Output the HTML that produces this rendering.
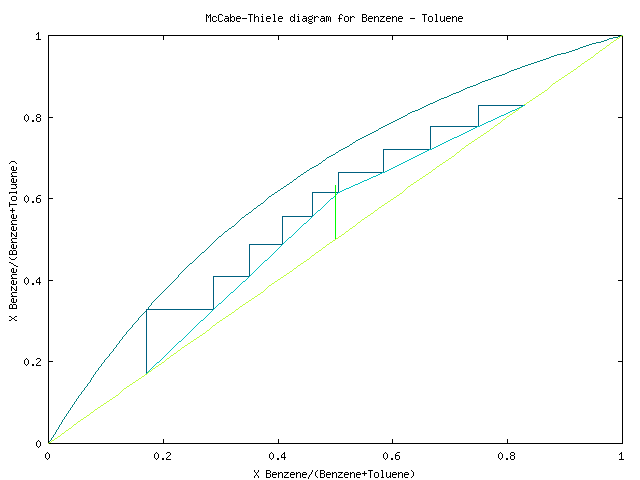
<!DOCTYPE html>
<html lang="en"><head><meta charset="utf-8"><title>McCabe-Thiele diagram for Benzene - Toluene</title>
<style>
html,body{margin:0;padding:0;background:#fff;}
#chart{position:relative;width:640px;height:480px;overflow:hidden;background:#fff;}
#chart svg{position:absolute;left:0;top:0;display:block;}
.t{position:absolute;height:12px;font-family:"Liberation Mono",monospace;font-size:10px;line-height:12px;letter-spacing:0;white-space:pre;color:transparent;}
</style></head><body>
<div id="chart">
<svg width="640" height="480" viewBox="0 0 640 480" shape-rendering="crispEdges" role="img" aria-label="McCabe-Thiele diagram for Benzene - Toluene">
<title>McCabe-Thiele diagram for Benzene - Toluene</title>
<rect width="640" height="480" fill="#ffffff"/>
<path id="frame" fill="#000000" d="M48 35h575v1h-575zM392 36h1v4h-1zM507 36h1v4h-1zM278 36h1v4h-1zM163 36h1v4h-1zM622 36h1v81h-1zM48 36h1v81h-1zM48 117h5v1h-5zM618 117h5v1h-5zM622 118h1v80h-1zM48 118h1v80h-1zM48 198h5v1h-5zM618 198h5v1h-5zM622 199h1v81h-1zM48 199h1v81h-1zM48 280h5v1h-5zM618 280h5v1h-5zM622 281h1v80h-1zM48 281h1v80h-1zM48 361h5v1h-5zM618 361h5v1h-5zM622 362h1v81h-1zM48 362h1v81h-1zM392 439h1v4h-1zM507 439h1v4h-1zM278 439h1v4h-1zM163 439h1v4h-1zM48 443h575v1h-575z"/>
<path id="equilibrium" fill="#008080" d="M621 35h2v1h-2zM618 36h3v1h-3zM613 37h5v1h-5zM609 38h4v1h-4zM607 39h2v1h-2zM604 40h3v1h-3zM601 41h3v1h-3zM596 42h5v1h-5zM592 43h4v1h-4zM589 44h3v1h-3zM586 45h3v1h-3zM583 46h3v1h-3zM580 47h3v1h-3zM578 48h2v1h-2zM575 49h3v1h-3zM572 50h3v1h-3zM569 51h3v1h-3zM566 52h3v1h-3zM561 53h5v1h-5zM557 54h4v1h-4zM554 55h3v1h-3zM551 56h3v1h-3zM549 57h2v1h-2zM546 58h3v1h-3zM543 59h3v1h-3zM540 60h3v1h-3zM537 61h3v1h-3zM534 62h3v1h-3zM531 63h3v1h-3zM528 64h3v1h-3zM525 65h3v1h-3zM522 66h3v1h-3zM520 67h2v1h-2zM517 68h3v1h-3zM514 69h3v1h-3zM511 70h3v1h-3zM509 71h2v1h-2zM507 72h2v1h-2zM505 73h2v1h-2zM502 74h3v1h-3zM499 75h3v1h-3zM496 76h3v1h-3zM493 77h3v1h-3zM491 78h2v1h-2zM488 79h3v1h-3zM485 80h3v1h-3zM482 81h3v1h-3zM480 82h2v1h-2zM478 83h2v1h-2zM476 84h2v1h-2zM473 85h3v1h-3zM470 86h3v1h-3zM467 87h3v1h-3zM465 88h2v1h-2zM463 89h2v1h-2zM461 90h2v1h-2zM459 91h2v1h-2zM456 92h3v1h-3zM453 93h3v1h-3zM451 94h2v1h-2zM449 95h2v1h-2zM447 96h2v1h-2zM444 97h3v1h-3zM441 98h3v1h-3zM439 99h2v1h-2zM437 100h2v1h-2zM435 101h2v1h-2zM433 102h2v1h-2zM430 103h3v1h-3zM428 104h2v1h-2zM426 105h2v1h-2zM424 106h2v1h-2zM422 107h2v1h-2zM420 108h2v1h-2zM418 109h2v1h-2zM415 110h3v1h-3zM412 111h3v1h-3zM410 112h2v1h-2zM408 113h2v1h-2zM407 114h1v1h-1zM405 115h2v1h-2zM403 116h2v1h-2zM401 117h2v1h-2zM399 118h2v1h-2zM397 119h2v1h-2zM395 120h2v1h-2zM393 121h2v1h-2zM391 122h2v1h-2zM389 123h2v1h-2zM387 124h2v1h-2zM385 125h2v1h-2zM383 126h2v1h-2zM381 127h2v1h-2zM379 128h2v1h-2zM378 129h1v1h-1zM376 130h2v1h-2zM374 131h2v1h-2zM372 132h2v1h-2zM370 133h2v1h-2zM368 134h2v1h-2zM366 135h2v1h-2zM364 136h2v1h-2zM362 137h2v1h-2zM360 138h2v1h-2zM358 139h2v1h-2zM356 140h2v1h-2zM355 141h1v1h-1zM353 142h2v1h-2zM352 143h1v1h-1zM350 144h2v1h-2zM349 145h1v1h-1zM347 146h2v1h-2zM345 147h2v1h-2zM343 148h2v1h-2zM341 149h2v1h-2zM339 150h2v1h-2zM338 151h1v1h-1zM336 152h2v1h-2zM335 153h1v1h-1zM333 154h2v1h-2zM331 155h2v1h-2zM329 156h2v1h-2zM327 157h2v1h-2zM326 158h1v1h-1zM325 159h1v1h-1zM323 160h2v1h-2zM322 161h1v1h-1zM321 162h1v1h-1zM319 163h2v1h-2zM318 164h1v1h-1zM316 165h2v1h-2zM314 166h2v1h-2zM312 167h2v1h-2zM310 168h2v1h-2zM309 169h1v1h-1zM307 170h2v1h-2zM306 171h1v1h-1zM304 172h2v1h-2zM303 173h1v1h-1zM301 174h2v1h-2zM300 175h1v1h-1zM298 176h2v1h-2zM297 177h1v1h-1zM296 178h1v1h-1zM294 179h2v1h-2zM293 180h1v1h-1zM292 181h1v1h-1zM290 182h2v1h-2zM289 183h1v1h-1zM287 184h2v1h-2zM286 185h1v1h-1zM284 186h2v1h-2zM283 187h1v1h-1zM281 188h2v1h-2zM280 189h1v1h-1zM278 190h2v1h-2zM277 191h1v1h-1zM275 192h2v1h-2zM274 193h1v1h-1zM272 194h2v1h-2zM271 195h1v1h-1zM269 196h2v1h-2zM268 197h1v1h-1zM267 198h1v1h-1zM266 199h1v1h-1zM265 200h1v1h-1zM264 201h1v1h-1zM263 202h1v1h-1zM261 203h2v1h-2zM260 204h1v1h-1zM258 205h2v1h-2zM257 206h1v1h-1zM256 207h1v1h-1zM254 208h2v1h-2zM253 209h1v1h-1zM252 210h1v1h-1zM251 211h1v1h-1zM249 212h2v1h-2zM248 213h1v1h-1zM246 214h2v1h-2zM245 215h1v1h-1zM244 216h1v1h-1zM242 217h2v1h-2zM241 218h1v1h-1zM240 219h1v1h-1zM239 220h1v1h-1zM238 221h1v1h-1zM237 222h1v1h-1zM236 223h1v1h-1zM235 224h1v1h-1zM234 225h1v1h-1zM232 226h2v1h-2zM231 227h1v1h-1zM229 228h2v1h-2zM228 229h1v1h-1zM227 230h1v1h-1zM225 231h2v1h-2zM224 232h1v1h-1zM223 233h1v1h-1zM222 234h1v1h-1zM221 235h1v1h-1zM219 236h2v1h-2zM218 237h1v1h-1zM217 238h1v1h-1zM216 239h1v1h-1zM215 240h1v1h-1zM214 241h1v1h-1zM213 242h1v1h-1zM212 243h1v1h-1zM211 244h1v1h-1zM210 245h1v1h-1zM209 246h1v1h-1zM208 247h1v1h-1zM207 248h1v1h-1zM206 249h1v1h-1zM205 250h1v1h-1zM204 251h1v1h-1zM202 252h2v1h-2zM201 253h1v1h-1zM200 254h1v1h-1zM199 255h1v1h-1zM198 256h1v1h-1zM197 257h1v1h-1zM196 258h1v1h-1zM195 259h1v1h-1zM194 260h1v1h-1zM193 261h1v1h-1zM192 262h1v1h-1zM190 263h2v1h-2zM189 264h1v1h-1zM188 265h1v1h-1zM187 266h1v1h-1zM186 267h1v1h-1zM185 268h1v1h-1zM184 269h1v1h-1zM183 270h1v1h-1zM182 271h1v1h-1zM181 272h1v1h-1zM180 273h1v1h-1zM179 274h1v1h-1zM178 275h1v2h-1zM177 277h1v1h-1zM176 278h1v1h-1zM175 279h1v1h-1zM174 280h1v1h-1zM173 281h1v1h-1zM172 282h1v1h-1zM171 283h1v1h-1zM170 284h1v1h-1zM169 285h1v1h-1zM168 286h1v1h-1zM167 287h1v1h-1zM166 288h1v1h-1zM165 289h1v1h-1zM164 290h1v1h-1zM163 291h1v1h-1zM162 292h1v1h-1zM161 293h1v1h-1zM160 294h1v1h-1zM159 295h1v1h-1zM158 296h1v1h-1zM157 297h1v1h-1zM156 298h1v1h-1zM155 299h1v1h-1zM154 300h1v1h-1zM153 301h1v1h-1zM152 302h1v1h-1zM151 303h1v2h-1zM150 305h1v1h-1zM149 306h1v1h-1zM148 307h1v2h-1zM147 309h1v1h-1zM146 310h1v1h-1zM145 311h1v1h-1zM144 312h1v1h-1zM143 313h1v1h-1zM142 314h1v1h-1zM141 315h1v1h-1zM140 316h1v1h-1zM139 317h1v1h-1zM138 318h1v2h-1zM137 320h1v1h-1zM136 321h1v1h-1zM135 322h1v1h-1zM134 323h1v1h-1zM133 324h1v1h-1zM132 325h1v2h-1zM131 327h1v1h-1zM130 328h1v1h-1zM129 329h1v1h-1zM128 330h1v1h-1zM127 331h1v1h-1zM126 332h1v2h-1zM125 334h1v1h-1zM124 335h1v1h-1zM123 336h1v1h-1zM122 337h1v2h-1zM121 339h1v1h-1zM120 340h1v1h-1zM119 341h1v2h-1zM118 343h1v1h-1zM117 344h1v1h-1zM116 345h1v2h-1zM115 347h1v1h-1zM114 348h1v1h-1zM113 349h1v2h-1zM112 351h1v1h-1zM111 352h1v1h-1zM110 353h1v1h-1zM109 354h1v2h-1zM108 356h1v1h-1zM107 357h1v1h-1zM106 358h1v1h-1zM105 359h1v1h-1zM104 360h1v2h-1zM103 362h1v1h-1zM102 363h1v1h-1zM101 364h1v2h-1zM100 366h1v1h-1zM99 367h1v1h-1zM98 368h1v2h-1zM97 370h1v1h-1zM96 371h1v1h-1zM95 372h1v2h-1zM94 374h1v1h-1zM93 375h1v2h-1zM92 377h1v1h-1zM91 378h1v2h-1zM90 380h1v2h-1zM89 382h1v1h-1zM88 383h1v1h-1zM87 384h1v2h-1zM86 386h1v1h-1zM85 387h1v1h-1zM84 388h1v2h-1zM83 390h1v1h-1zM82 391h1v1h-1zM81 392h1v2h-1zM80 394h1v1h-1zM79 395h1v1h-1zM78 396h1v2h-1zM77 398h1v1h-1zM76 399h1v2h-1zM75 401h1v1h-1zM74 402h1v2h-1zM73 404h1v1h-1zM72 405h1v2h-1zM71 407h1v1h-1zM70 408h1v2h-1zM69 410h1v1h-1zM68 411h1v2h-1zM67 413h1v1h-1zM66 414h1v2h-1zM65 416h1v1h-1zM64 417h1v2h-1zM63 419h1v1h-1zM62 420h1v2h-1zM61 422h1v2h-1zM60 424h1v1h-1zM59 425h1v2h-1zM58 427h1v2h-1zM57 429h1v1h-1zM56 430h1v2h-1zM55 432h1v2h-1zM54 434h1v1h-1zM53 435h1v2h-1zM52 437h1v1h-1zM51 438h1v2h-1zM50 440h1v1h-1zM49 441h1v2h-1zM48 443h1v1h-1z"/>
<path id="diagonal" fill="#c0ff40" d="M622 35h1v1h-1zM620 36h2v1h-2zM619 37h1v1h-1zM617 38h2v1h-2zM616 39h1v1h-1zM614 40h2v1h-2zM613 41h1v1h-1zM611 42h2v1h-2zM610 43h1v1h-1zM609 44h1v1h-1zM607 45h2v1h-2zM606 46h1v1h-1zM605 47h1v1h-1zM603 48h2v1h-2zM602 49h1v1h-1zM600 50h2v1h-2zM599 51h1v1h-1zM598 52h1v1h-1zM596 53h2v1h-2zM595 54h1v1h-1zM594 55h1v1h-1zM593 56h1v1h-1zM591 57h2v1h-2zM590 58h1v1h-1zM588 59h2v1h-2zM587 60h1v1h-1zM585 61h2v1h-2zM584 62h1v1h-1zM582 63h2v1h-2zM581 64h1v1h-1zM580 65h1v1h-1zM578 66h2v1h-2zM577 67h1v1h-1zM576 68h1v1h-1zM574 69h2v1h-2zM573 70h1v1h-1zM571 71h2v1h-2zM570 72h1v1h-1zM568 73h2v1h-2zM567 74h1v1h-1zM565 75h2v1h-2zM564 76h1v1h-1zM562 77h2v1h-2zM561 78h1v1h-1zM559 79h2v1h-2zM558 80h1v1h-1zM556 81h2v1h-2zM555 82h1v1h-1zM553 83h2v1h-2zM552 84h1v1h-1zM551 85h1v1h-1zM550 86h1v1h-1zM549 87h1v1h-1zM548 88h1v1h-1zM547 89h1v1h-1zM545 90h2v1h-2zM544 91h1v1h-1zM542 92h2v1h-2zM541 93h1v1h-1zM539 94h2v1h-2zM538 95h1v1h-1zM536 96h2v1h-2zM535 97h1v1h-1zM533 98h2v1h-2zM532 99h1v1h-1zM530 100h2v1h-2zM529 101h1v1h-1zM527 102h2v1h-2zM526 103h1v1h-1zM524 104h2v1h-2zM523 105h1v1h-1zM522 106h1v1h-1zM520 107h2v1h-2zM519 108h1v1h-1zM518 109h1v1h-1zM516 110h2v1h-2zM515 111h1v1h-1zM513 112h2v1h-2zM512 113h1v1h-1zM510 114h2v1h-2zM509 115h1v1h-1zM507 116h2v1h-2zM506 117h1v1h-1zM505 118h1v1h-1zM503 119h2v1h-2zM502 120h1v1h-1zM501 121h1v1h-1zM500 122h1v1h-1zM498 123h2v1h-2zM497 124h1v1h-1zM495 125h2v1h-2zM494 126h1v1h-1zM493 127h1v1h-1zM491 128h2v1h-2zM490 129h1v1h-1zM489 130h1v1h-1zM487 131h2v1h-2zM486 132h1v1h-1zM484 133h2v1h-2zM483 134h1v1h-1zM481 135h2v1h-2zM480 136h1v1h-1zM478 137h2v1h-2zM477 138h1v1h-1zM475 139h2v1h-2zM474 140h1v1h-1zM472 141h2v1h-2zM471 142h1v1h-1zM469 143h2v1h-2zM468 144h1v1h-1zM466 145h2v1h-2zM465 146h1v1h-1zM464 147h1v1h-1zM462 148h2v1h-2zM461 149h1v1h-1zM460 150h1v1h-1zM459 151h1v1h-1zM457 152h2v1h-2zM456 153h1v1h-1zM455 154h1v1h-1zM454 155h1v1h-1zM452 156h2v1h-2zM451 157h1v1h-1zM449 158h2v1h-2zM448 159h1v1h-1zM446 160h2v1h-2zM445 161h1v1h-1zM443 162h2v1h-2zM442 163h1v1h-1zM440 164h2v1h-2zM439 165h1v1h-1zM437 166h2v1h-2zM436 167h1v1h-1zM435 168h1v1h-1zM433 169h2v1h-2zM432 170h1v1h-1zM431 171h1v1h-1zM429 172h2v1h-2zM428 173h1v1h-1zM426 174h2v1h-2zM425 175h1v1h-1zM423 176h2v1h-2zM422 177h1v1h-1zM420 178h2v1h-2zM419 179h1v1h-1zM417 180h2v1h-2zM416 181h1v1h-1zM414 182h2v1h-2zM413 183h1v1h-1zM411 184h2v1h-2zM410 185h1v1h-1zM408 186h2v1h-2zM407 187h1v1h-1zM406 188h1v1h-1zM405 189h1v1h-1zM404 190h1v1h-1zM403 191h1v1h-1zM402 192h1v1h-1zM400 193h2v1h-2zM399 194h1v1h-1zM397 195h2v1h-2zM396 196h1v1h-1zM394 197h2v1h-2zM393 198h1v1h-1zM391 199h2v1h-2zM390 200h1v1h-1zM388 201h2v1h-2zM387 202h1v1h-1zM385 203h2v1h-2zM384 204h1v1h-1zM382 205h2v1h-2zM381 206h1v1h-1zM379 207h2v1h-2zM378 208h1v1h-1zM377 209h1v1h-1zM375 210h2v1h-2zM374 211h1v1h-1zM373 212h1v1h-1zM371 213h2v1h-2zM370 214h1v1h-1zM368 215h2v1h-2zM367 216h1v1h-1zM365 217h2v1h-2zM364 218h1v1h-1zM362 219h2v1h-2zM361 220h1v1h-1zM360 221h1v1h-1zM358 222h2v1h-2zM357 223h1v1h-1zM356 224h1v1h-1zM355 225h1v1h-1zM353 226h2v1h-2zM352 227h1v1h-1zM350 228h2v1h-2zM349 229h1v1h-1zM348 230h1v1h-1zM346 231h2v1h-2zM345 232h1v1h-1zM344 233h1v1h-1zM342 234h2v1h-2zM341 235h1v1h-1zM339 236h2v1h-2zM338 237h1v1h-1zM336 238h2v1h-2zM335 239h1v1h-1zM333 240h2v1h-2zM332 241h1v1h-1zM330 242h2v1h-2zM329 243h1v1h-1zM327 244h2v1h-2zM326 245h1v1h-1zM325 246h1v1h-1zM323 247h2v1h-2zM322 248h1v1h-1zM321 249h1v1h-1zM319 250h2v1h-2zM318 251h1v1h-1zM316 252h2v1h-2zM315 253h1v1h-1zM314 254h1v1h-1zM312 255h2v1h-2zM311 256h1v1h-1zM310 257h1v1h-1zM309 258h1v1h-1zM307 259h2v1h-2zM306 260h1v1h-1zM304 261h2v1h-2zM303 262h1v1h-1zM301 263h2v1h-2zM300 264h1v1h-1zM298 265h2v1h-2zM297 266h1v1h-1zM296 267h1v1h-1zM294 268h2v1h-2zM293 269h1v1h-1zM292 270h1v1h-1zM290 271h2v1h-2zM289 272h1v1h-1zM287 273h2v1h-2zM286 274h1v1h-1zM284 275h2v1h-2zM283 276h1v1h-1zM281 277h2v1h-2zM280 278h1v1h-1zM278 279h2v1h-2zM277 280h1v1h-1zM275 281h2v1h-2zM274 282h1v1h-1zM272 283h2v1h-2zM271 284h1v1h-1zM269 285h2v1h-2zM268 286h1v1h-1zM267 287h1v1h-1zM266 288h1v1h-1zM265 289h1v1h-1zM264 290h1v1h-1zM263 291h1v1h-1zM261 292h2v1h-2zM260 293h1v1h-1zM258 294h2v1h-2zM257 295h1v1h-1zM255 296h2v1h-2zM254 297h1v1h-1zM252 298h2v1h-2zM251 299h1v1h-1zM249 300h2v1h-2zM248 301h1v1h-1zM246 302h2v1h-2zM245 303h1v1h-1zM243 304h2v1h-2zM242 305h1v1h-1zM240 306h2v1h-2zM239 307h1v1h-1zM238 308h1v1h-1zM236 309h2v1h-2zM235 310h1v1h-1zM234 311h1v1h-1zM232 312h2v1h-2zM231 313h1v1h-1zM229 314h2v1h-2zM228 315h1v1h-1zM226 316h2v1h-2zM225 317h1v1h-1zM223 318h2v1h-2zM222 319h1v1h-1zM220 320h2v1h-2zM219 321h1v1h-1zM217 322h2v1h-2zM216 323h1v1h-1zM215 324h1v1h-1zM213 325h2v1h-2zM212 326h1v1h-1zM211 327h1v1h-1zM210 328h1v1h-1zM209 329h1v1h-1zM207 330h2v1h-2zM206 331h1v1h-1zM205 332h1v1h-1zM203 333h2v1h-2zM202 334h1v1h-1zM200 335h2v1h-2zM199 336h1v1h-1zM197 337h2v1h-2zM196 338h1v1h-1zM194 339h2v1h-2zM193 340h1v1h-1zM191 341h2v1h-2zM190 342h1v1h-1zM188 343h2v1h-2zM187 344h1v1h-1zM185 345h2v1h-2zM184 346h1v1h-1zM182 347h2v1h-2zM181 348h1v1h-1zM180 349h1v1h-1zM178 350h2v1h-2zM177 351h1v1h-1zM176 352h1v1h-1zM174 353h2v1h-2zM173 354h1v1h-1zM171 355h2v1h-2zM170 356h1v1h-1zM169 357h1v1h-1zM167 358h2v1h-2zM166 359h1v1h-1zM165 360h1v1h-1zM164 361h1v1h-1zM162 362h2v1h-2zM161 363h1v1h-1zM159 364h2v1h-2zM158 365h1v1h-1zM156 366h2v1h-2zM155 367h1v1h-1zM153 368h2v1h-2zM152 369h1v1h-1zM151 370h1v1h-1zM149 371h2v1h-2zM148 372h1v1h-1zM147 373h1v1h-1zM145 374h2v1h-2zM144 375h1v1h-1zM142 376h2v1h-2zM141 377h1v1h-1zM139 378h2v1h-2zM138 379h1v1h-1zM136 380h2v1h-2zM135 381h1v1h-1zM133 382h2v1h-2zM132 383h1v1h-1zM130 384h2v1h-2zM129 385h1v1h-1zM127 386h2v1h-2zM126 387h1v1h-1zM124 388h2v1h-2zM123 389h1v1h-1zM122 390h1v1h-1zM121 391h1v1h-1zM120 392h1v1h-1zM119 393h1v1h-1zM118 394h1v1h-1zM116 395h2v1h-2zM115 396h1v1h-1zM113 397h2v1h-2zM112 398h1v1h-1zM110 399h2v1h-2zM109 400h1v1h-1zM107 401h2v1h-2zM106 402h1v1h-1zM104 403h2v1h-2zM103 404h1v1h-1zM101 405h2v1h-2zM100 406h1v1h-1zM98 407h2v1h-2zM97 408h1v1h-1zM95 409h2v1h-2zM94 410h1v1h-1zM93 411h1v1h-1zM91 412h2v1h-2zM90 413h1v1h-1zM89 414h1v1h-1zM87 415h2v1h-2zM86 416h1v1h-1zM84 417h2v1h-2zM83 418h1v1h-1zM81 419h2v1h-2zM80 420h1v1h-1zM78 421h2v1h-2zM77 422h1v1h-1zM76 423h1v1h-1zM74 424h2v1h-2zM73 425h1v1h-1zM72 426h1v1h-1zM71 427h1v1h-1zM69 428h2v1h-2zM68 429h1v1h-1zM66 430h2v1h-2zM65 431h1v1h-1zM64 432h1v1h-1zM62 433h2v1h-2zM61 434h1v1h-1zM60 435h1v1h-1zM58 436h2v1h-2zM57 437h1v1h-1zM55 438h2v1h-2zM54 439h1v1h-1zM52 440h2v1h-2zM51 441h1v1h-1zM49 442h2v1h-2zM48 443h1v1h-1z"/>
<path id="stages" fill="#006080" d="M478 105h46v1h-46zM478 106h1v20h-1zM430 126h49v1h-49zM430 127h1v22h-1zM383 149h48v1h-48zM383 150h1v22h-1zM338 172h46v1h-46zM338 173h1v19h-1zM312 192h27v1h-27zM312 193h1v23h-1zM282 216h31v1h-31zM282 217h1v27h-1zM249 244h34v1h-34zM249 245h1v31h-1zM213 276h37v1h-37zM213 277h1v32h-1zM146 309h68v1h-68zM146 310h1v64h-1z"/>
<path id="operating" fill="#00c0c0" d="M523 105h2v1h-2zM521 106h2v1h-2zM519 107h2v1h-2zM517 108h2v1h-2zM515 109h2v1h-2zM512 110h3v1h-3zM510 111h2v1h-2zM508 112h2v1h-2zM506 113h2v1h-2zM504 114h2v1h-2zM501 115h3v1h-3zM499 116h2v1h-2zM497 117h2v1h-2zM495 118h2v1h-2zM493 119h2v1h-2zM491 120h2v1h-2zM488 121h3v1h-3zM486 122h2v1h-2zM484 123h2v1h-2zM482 124h2v1h-2zM480 125h2v1h-2zM477 126h3v1h-3zM475 127h2v1h-2zM473 128h2v1h-2zM471 129h2v1h-2zM469 130h2v1h-2zM467 131h2v1h-2zM465 132h2v1h-2zM463 133h2v1h-2zM461 134h2v1h-2zM459 135h2v1h-2zM457 136h2v1h-2zM454 137h3v1h-3zM452 138h2v1h-2zM450 139h2v1h-2zM448 140h2v1h-2zM446 141h2v1h-2zM444 142h2v1h-2zM442 143h2v1h-2zM440 144h2v1h-2zM438 145h2v1h-2zM436 146h2v1h-2zM434 147h2v1h-2zM432 148h2v1h-2zM429 149h3v1h-3zM427 150h2v1h-2zM425 151h2v1h-2zM423 152h2v1h-2zM421 153h2v1h-2zM419 154h2v1h-2zM417 155h2v1h-2zM415 156h2v1h-2zM413 157h2v1h-2zM411 158h2v1h-2zM409 159h2v1h-2zM407 160h2v1h-2zM405 161h2v1h-2zM403 162h2v1h-2zM401 163h2v1h-2zM399 164h2v1h-2zM397 165h2v1h-2zM395 166h2v1h-2zM393 167h2v1h-2zM391 168h2v1h-2zM389 169h2v1h-2zM387 170h2v1h-2zM385 171h2v1h-2zM382 172h3v1h-3zM380 173h2v1h-2zM378 174h2v1h-2zM376 175h2v1h-2zM373 176h3v1h-3zM371 177h2v1h-2zM369 178h2v1h-2zM367 179h2v1h-2zM364 180h3v1h-3zM362 181h2v1h-2zM360 182h2v1h-2zM358 183h2v1h-2zM355 184h3v1h-3zM353 185h2v1h-2zM351 186h2v1h-2zM349 187h2v1h-2zM346 188h3v1h-3zM344 189h2v1h-2zM342 190h2v1h-2zM340 191h2v1h-2zM338 192h2v1h-2zM337 193h1v1h-1zM336 194h1v1h-1zM335 195h1v1h-1zM334 196h1v1h-1zM333 197h1v1h-1zM331 198h2v1h-2zM330 199h1v1h-1zM329 200h1v1h-1zM328 201h1v1h-1zM327 202h1v1h-1zM326 203h1v1h-1zM325 204h1v1h-1zM324 205h1v1h-1zM323 206h1v1h-1zM322 207h1v1h-1zM321 208h1v1h-1zM320 209h1v1h-1zM318 210h2v1h-2zM317 211h1v1h-1zM316 212h1v1h-1zM315 213h1v1h-1zM314 214h1v1h-1zM313 215h1v1h-1zM312 216h1v1h-1zM311 217h1v1h-1zM310 218h1v1h-1zM309 219h1v1h-1zM308 220h1v1h-1zM307 221h1v1h-1zM306 222h1v1h-1zM304 223h2v1h-2zM303 224h1v1h-1zM302 225h1v1h-1zM301 226h1v1h-1zM300 227h1v1h-1zM299 228h1v1h-1zM298 229h1v1h-1zM297 230h1v1h-1zM296 231h1v1h-1zM295 232h1v1h-1zM294 233h1v1h-1zM293 234h1v1h-1zM292 235h1v1h-1zM291 236h1v1h-1zM289 237h2v1h-2zM288 238h1v1h-1zM287 239h1v1h-1zM286 240h1v1h-1zM285 241h1v1h-1zM284 242h1v1h-1zM283 243h1v1h-1zM282 244h1v1h-1zM281 245h1v1h-1zM280 246h1v1h-1zM279 247h1v1h-1zM278 248h1v1h-1zM277 249h1v1h-1zM276 250h1v1h-1zM275 251h1v1h-1zM274 252h1v1h-1zM273 253h1v1h-1zM272 254h1v1h-1zM271 255h1v1h-1zM270 256h1v1h-1zM269 257h1v1h-1zM268 258h1v1h-1zM267 259h1v1h-1zM265 260h2v1h-2zM264 261h1v1h-1zM263 262h1v1h-1zM262 263h1v1h-1zM261 264h1v1h-1zM260 265h1v1h-1zM259 266h1v1h-1zM258 267h1v1h-1zM257 268h1v1h-1zM256 269h1v1h-1zM255 270h1v1h-1zM254 271h1v1h-1zM253 272h1v1h-1zM252 273h1v1h-1zM251 274h1v1h-1zM250 275h1v1h-1zM249 276h1v1h-1zM248 277h1v1h-1zM247 278h1v1h-1zM246 279h1v1h-1zM245 280h1v1h-1zM243 281h2v1h-2zM242 282h1v1h-1zM241 283h1v1h-1zM240 284h1v1h-1zM239 285h1v1h-1zM238 286h1v1h-1zM237 287h1v1h-1zM236 288h1v1h-1zM235 289h1v1h-1zM234 290h1v1h-1zM233 291h1v1h-1zM231 292h2v1h-2zM230 293h1v1h-1zM229 294h1v1h-1zM228 295h1v1h-1zM227 296h1v1h-1zM226 297h1v1h-1zM225 298h1v1h-1zM224 299h1v1h-1zM223 300h1v1h-1zM222 301h1v1h-1zM221 302h1v1h-1zM219 303h2v1h-2zM218 304h1v1h-1zM217 305h1v1h-1zM216 306h1v1h-1zM215 307h1v1h-1zM214 308h1v1h-1zM213 309h1v1h-1zM212 310h1v1h-1zM211 311h1v1h-1zM210 312h1v1h-1zM209 313h1v1h-1zM208 314h1v1h-1zM207 315h1v1h-1zM206 316h1v1h-1zM205 317h1v1h-1zM204 318h1v1h-1zM203 319h1v1h-1zM201 320h2v1h-2zM200 321h1v1h-1zM199 322h1v1h-1zM198 323h1v1h-1zM197 324h1v1h-1zM196 325h1v1h-1zM195 326h1v1h-1zM194 327h1v1h-1zM193 328h1v1h-1zM192 329h1v1h-1zM191 330h1v1h-1zM190 331h1v1h-1zM189 332h1v1h-1zM188 333h1v1h-1zM187 334h1v1h-1zM186 335h1v1h-1zM185 336h1v1h-1zM184 337h1v1h-1zM183 338h1v1h-1zM182 339h1v1h-1zM181 340h1v1h-1zM179 341h2v1h-2zM178 342h1v1h-1zM177 343h1v1h-1zM176 344h1v1h-1zM175 345h1v1h-1zM174 346h1v1h-1zM173 347h1v1h-1zM172 348h1v1h-1zM171 349h1v1h-1zM170 350h1v1h-1zM169 351h1v1h-1zM168 352h1v1h-1zM167 353h1v1h-1zM166 354h1v1h-1zM165 355h1v1h-1zM164 356h1v1h-1zM163 357h1v1h-1zM162 358h1v1h-1zM161 359h1v1h-1zM160 360h1v1h-1zM159 361h1v1h-1zM157 362h2v1h-2zM156 363h1v1h-1zM155 364h1v1h-1zM154 365h1v1h-1zM153 366h1v1h-1zM152 367h1v1h-1zM151 368h1v1h-1zM150 369h1v1h-1zM149 370h1v1h-1zM148 371h1v1h-1zM147 372h1v1h-1zM146 373h1v1h-1z"/>
<path id="qline" fill="#00ff00" d="M335 185h1v54h-1z"/>
<path id="text" fill="#000000" d="M210 14h1v1h-1zM298 14h1v1h-1zM206 14h1v1h-1zM340 14h2v1h-2zM219 14h3v1h-3zM248 14h5v1h-5zM422 14h5v1h-5zM435 14h2v1h-2zM262 14h1v1h-1zM273 14h2v1h-2zM362 14h4v1h-4zM342 15h1v1h-1zM222 15h1v1h-1zM312 15h1v1h-1zM206 15h2v1h-2zM209 15h2v1h-2zM254 14h1v3h-1zM294 14h1v3h-1zM230 14h1v3h-1zM366 15h1v2h-1zM362 15h1v2h-1zM329 16h1v1h-1zM394 16h2v1h-2zM452 16h1v1h-1zM213 16h3v1h-3zM279 16h3v1h-3zM326 16h2v1h-2zM345 16h3v1h-3zM237 16h3v1h-3zM303 16h3v1h-3zM369 16h3v1h-3zM297 16h2v1h-2zM352 16h2v1h-2zM392 16h1v1h-1zM459 16h3v1h-3zM376 16h2v1h-2zM309 16h3v1h-3zM399 16h3v1h-3zM261 16h2v1h-2zM316 16h2v1h-2zM380 16h5v1h-5zM374 16h1v1h-1zM350 16h1v1h-1zM267 16h3v1h-3zM225 16h3v1h-3zM232 16h2v1h-2zM256 16h2v1h-2zM447 16h3v1h-3zM314 16h1v1h-1zM429 16h3v1h-3zM387 16h3v1h-3zM291 16h2v1h-2zM321 16h3v1h-3zM454 16h2v1h-2zM339 15h1v3h-1zM208 16h1v2h-1zM318 17h1v1h-1zM386 17h1v1h-1zM278 17h1v1h-1zM350 17h2v1h-2zM374 17h2v1h-2zM368 17h1v1h-1zM390 17h1v1h-1zM236 17h1v1h-1zM324 17h1v1h-1zM216 17h1v1h-1zM306 17h1v1h-1zM282 17h1v1h-1zM240 17h1v1h-1zM458 17h1v1h-1zM314 17h2v1h-2zM372 17h1v1h-1zM383 17h1v1h-1zM462 17h1v1h-1zM354 17h1v1h-1zM398 17h1v1h-1zM266 17h1v1h-1zM254 17h2v1h-2zM230 17h2v1h-2zM452 17h2v1h-2zM402 17h1v1h-1zM446 17h1v1h-1zM270 17h1v1h-1zM228 17h1v1h-1zM362 17h4v1h-4zM293 17h2v1h-2zM392 17h2v1h-2zM450 17h1v1h-1zM308 17h1v2h-1zM312 17h1v2h-1zM242 18h5v1h-5zM266 18h5v1h-5zM338 18h4v1h-4zM225 18h4v1h-4zM398 18h5v1h-5zM446 18h5v1h-5zM321 18h4v1h-4zM458 18h5v1h-5zM410 18h5v1h-5zM386 18h5v1h-5zM278 18h5v1h-5zM303 18h4v1h-4zM382 18h1v1h-1zM236 18h5v1h-5zM368 18h5v1h-5zM444 16h1v4h-1zM294 18h1v2h-1zM230 18h1v2h-1zM324 19h1v1h-1zM381 19h1v1h-1zM306 19h1v1h-1zM309 19h3v1h-3zM228 19h1v1h-1zM436 15h1v6h-1zM218 15h1v6h-1zM274 15h1v6h-1zM440 16h1v5h-1zM298 17h1v4h-1zM344 17h1v4h-1zM212 17h1v4h-1zM432 17h1v4h-1zM234 17h1v4h-1zM348 17h1v4h-1zM428 17h1v4h-1zM328 17h1v4h-1zM262 17h1v4h-1zM290 17h1v4h-1zM366 18h1v3h-1zM362 18h1v3h-1zM386 19h1v2h-1zM320 19h1v2h-1zM302 19h1v2h-1zM278 19h1v2h-1zM368 19h1v2h-1zM236 19h1v2h-1zM458 19h1v2h-1zM398 19h1v2h-1zM266 19h1v2h-1zM224 19h1v2h-1zM446 19h1v2h-1zM323 20h2v1h-2zM216 20h1v1h-1zM308 20h1v1h-1zM222 20h1v1h-1zM305 20h2v1h-2zM230 20h2v1h-2zM380 20h1v1h-1zM443 20h2v1h-2zM227 20h2v1h-2zM293 20h2v1h-2zM250 15h1v7h-1zM424 15h1v7h-1zM210 16h1v6h-1zM206 16h1v6h-1zM456 17h1v5h-1zM258 17h1v5h-1zM326 17h1v5h-1zM396 17h1v5h-1zM330 17h1v5h-1zM378 17h1v5h-1zM452 18h1v4h-1zM254 18h1v4h-1zM392 18h1v4h-1zM374 18h1v4h-1zM350 18h1v4h-1zM314 18h1v4h-1zM339 19h1v3h-1zM213 21h3v1h-3zM279 21h3v1h-3zM345 21h3v1h-3zM435 21h3v1h-3zM237 21h3v1h-3zM369 21h3v1h-3zM261 21h3v1h-3zM219 21h3v1h-3zM321 21h2v1h-2zM324 21h1v1h-1zM459 21h3v1h-3zM306 21h1v1h-1zM309 21h3v1h-3zM399 21h3v1h-3zM303 21h2v1h-2zM380 21h5v1h-5zM267 21h3v1h-3zM444 21h1v1h-1zM232 21h2v1h-2zM273 21h3v1h-3zM441 21h2v1h-2zM447 21h3v1h-3zM228 21h1v1h-1zM294 21h1v1h-1zM429 21h3v1h-3zM297 21h3v1h-3zM387 21h3v1h-3zM291 21h2v1h-2zM225 21h2v1h-2zM230 21h1v1h-1zM362 21h4v1h-4zM308 22h1v1h-1zM312 22h1v1h-1zM309 23h3v1h-3zM38 32h1v1h-1zM37 33h2v1h-2zM36 34h1v1h-1zM38 34h1v5h-1zM36 39h5v1h-5zM37 114h3v1h-3zM26 114h1v1h-1zM25 115h1v1h-1zM27 115h1v1h-1zM36 115h1v2h-1zM40 115h1v2h-1zM37 117h3v1h-3zM28 116h1v4h-1zM24 116h1v4h-1zM36 118h1v3h-1zM40 118h1v3h-1zM27 120h1v1h-1zM25 120h1v1h-1zM32 120h2v2h-2zM37 121h3v1h-3zM26 121h1v1h-1zM11 161h4v1h-4zM15 162h1v1h-1zM10 162h1v1h-1zM9 163h1v1h-1zM16 163h1v1h-1zM12 166h2v1h-2zM11 167h1v3h-1zM13 167h1v3h-1zM16 167h1v3h-1zM12 170h4v1h-4zM12 172h5v1h-5zM11 173h1v2h-1zM12 175h1v1h-1zM11 176h6v1h-6zM12 178h2v1h-2zM11 179h1v3h-1zM13 179h1v3h-1zM16 179h1v3h-1zM12 182h4v1h-4zM11 184h6v1h-6zM15 185h1v1h-1zM16 186h1v2h-1zM11 188h5v1h-5zM16 191h1v1h-1zM9 192h8v1h-8zM9 193h1v1h-1zM16 193h1v1h-1zM38 195h3v1h-3zM26 195h1v1h-1zM12 196h4v1h-4zM25 196h1v1h-1zM37 196h1v1h-1zM27 196h1v1h-1zM36 197h1v1h-1zM36 198h4v1h-4zM11 197h1v3h-1zM16 197h1v3h-1zM28 197h1v4h-1zM24 197h1v4h-1zM12 200h4v1h-4zM40 199h1v3h-1zM36 199h1v3h-1zM27 201h1v1h-1zM25 201h1v1h-1zM32 201h2v2h-2zM37 202h3v1h-3zM26 202h1v1h-1zM9 202h1v2h-1zM9 204h8v1h-8zM9 205h1v2h-1zM12 208h1v2h-1zM10 210h5v1h-5zM12 211h1v2h-1zM12 214h2v1h-2zM11 215h1v3h-1zM13 215h1v3h-1zM16 215h1v3h-1zM12 218h4v1h-4zM12 220h5v1h-5zM11 221h1v2h-1zM12 223h1v1h-1zM11 224h6v1h-6zM12 226h2v1h-2zM11 227h1v3h-1zM13 227h1v3h-1zM16 227h1v3h-1zM12 230h4v1h-4zM11 232h1v1h-1zM11 233h2v1h-2zM13 234h1v1h-1zM16 232h1v4h-1zM14 235h1v1h-1zM11 234h1v3h-1zM15 236h2v1h-2zM12 238h5v1h-5zM11 239h1v2h-1zM12 241h1v1h-1zM11 242h6v1h-6zM12 244h2v1h-2zM11 245h1v3h-1zM13 245h1v3h-1zM16 245h1v3h-1zM12 248h4v1h-4zM13 250h3v1h-3zM10 250h2v1h-2zM12 251h1v3h-1zM9 251h1v3h-1zM16 251h1v3h-1zM9 254h8v1h-8zM9 257h1v1h-1zM16 257h1v1h-1zM15 258h1v1h-1zM10 258h1v1h-1zM11 259h4v1h-4zM9 262h2v1h-2zM11 263h2v1h-2zM13 264h1v1h-1zM14 265h2v1h-2zM16 266h2v1h-2zM12 268h2v1h-2zM11 269h1v3h-1zM13 269h1v3h-1zM16 269h1v3h-1zM12 272h4v1h-4zM12 274h5v1h-5zM11 275h1v2h-1zM39 277h1v1h-1zM12 277h1v1h-1zM26 277h1v1h-1zM27 278h1v1h-1zM25 278h1v1h-1zM38 278h2v1h-2zM11 278h6v1h-6zM37 279h1v1h-1zM12 280h2v1h-2zM39 279h1v3h-1zM36 280h1v2h-1zM28 279h1v4h-1zM24 279h1v4h-1zM36 282h5v1h-5zM11 281h1v3h-1zM13 281h1v3h-1zM16 281h1v3h-1zM27 283h1v1h-1zM25 283h1v1h-1zM39 283h1v2h-1zM32 283h2v2h-2zM12 284h4v1h-4zM26 284h1v1h-1zM11 286h1v1h-1zM11 287h2v1h-2zM13 288h1v1h-1zM16 286h1v4h-1zM14 289h1v1h-1zM11 288h1v3h-1zM15 290h2v1h-2zM12 292h5v1h-5zM11 293h1v2h-1zM12 295h1v1h-1zM11 296h6v1h-6zM12 298h2v1h-2zM11 299h1v3h-1zM13 299h1v3h-1zM16 299h1v3h-1zM12 302h4v1h-4zM13 304h3v1h-3zM10 304h2v1h-2zM12 305h1v3h-1zM9 305h1v3h-1zM16 305h1v3h-1zM9 308h8v1h-8zM9 316h2v1h-2zM15 316h2v1h-2zM11 317h1v1h-1zM14 317h1v1h-1zM12 318h2v1h-2zM11 319h1v1h-1zM14 319h1v1h-1zM9 320h2v1h-2zM15 320h2v1h-2zM37 358h3v1h-3zM26 358h1v1h-1zM36 359h1v1h-1zM25 359h1v1h-1zM27 359h1v1h-1zM40 359h1v2h-1zM39 361h1v1h-1zM38 362h1v1h-1zM28 360h1v4h-1zM24 360h1v4h-1zM37 363h1v1h-1zM25 364h1v1h-1zM36 364h1v1h-1zM27 364h1v1h-1zM32 364h2v2h-2zM36 365h5v1h-5zM26 365h1v1h-1zM38 440h1v1h-1zM39 441h1v1h-1zM37 441h1v1h-1zM36 442h1v4h-1zM40 442h1v4h-1zM39 446h1v1h-1zM37 446h1v1h-1zM38 447h1v1h-1zM500 452h1v1h-1zM47 452h1v1h-1zM156 452h1v1h-1zM397 452h3v1h-3zM271 452h1v1h-1zM511 452h3v1h-3zM167 452h3v1h-3zM621 452h1v1h-1zM284 452h1v1h-1zM385 452h1v1h-1zM155 453h1v1h-1zM166 453h1v1h-1zM270 453h1v1h-1zM386 453h1v1h-1zM48 453h1v1h-1zM157 453h1v1h-1zM46 453h1v1h-1zM501 453h1v1h-1zM620 453h2v1h-2zM272 453h1v1h-1zM283 453h2v1h-2zM384 453h1v1h-1zM499 453h1v1h-1zM396 453h1v1h-1zM510 453h1v2h-1zM514 453h1v2h-1zM170 453h1v2h-1zM282 454h1v1h-1zM619 454h1v1h-1zM395 454h1v1h-1zM395 455h4v1h-4zM169 455h1v1h-1zM511 455h3v1h-3zM284 454h1v3h-1zM281 455h1v2h-1zM168 456h1v1h-1zM49 454h1v4h-1zM269 454h1v4h-1zM45 454h1v4h-1zM387 454h1v4h-1zM502 454h1v4h-1zM498 454h1v4h-1zM273 454h1v4h-1zM383 454h1v4h-1zM158 454h1v4h-1zM154 454h1v4h-1zM167 457h1v1h-1zM281 457h5v1h-5zM621 454h1v5h-1zM399 456h1v3h-1zM514 456h1v3h-1zM395 456h1v3h-1zM510 456h1v3h-1zM155 458h1v1h-1zM166 458h1v1h-1zM386 458h1v1h-1zM157 458h1v1h-1zM48 458h1v1h-1zM46 458h1v1h-1zM384 458h1v1h-1zM499 458h1v1h-1zM270 458h1v1h-1zM501 458h1v1h-1zM272 458h1v1h-1zM506 458h2v2h-2zM277 458h2v2h-2zM391 458h2v2h-2zM284 458h1v2h-1zM162 458h2v2h-2zM500 459h1v1h-1zM47 459h1v1h-1zM156 459h1v1h-1zM619 459h5v1h-5zM271 459h1v1h-1zM396 459h3v1h-3zM385 459h1v1h-1zM511 459h3v1h-3zM166 459h5v1h-5zM320 470h4v1h-4zM266 470h4v1h-4zM411 470h1v1h-1zM368 470h5v1h-5zM381 470h2v1h-2zM317 470h1v1h-1zM258 470h1v2h-1zM254 470h1v2h-1zM312 470h1v2h-1zM316 471h1v1h-1zM412 471h1v1h-1zM364 471h1v2h-1zM324 471h1v2h-1zM270 471h1v2h-1zM320 471h1v2h-1zM266 471h1v2h-1zM296 472h1v1h-1zM278 472h1v1h-1zM345 472h3v1h-3zM303 472h3v1h-3zM284 472h5v1h-5zM327 472h3v1h-3zM352 472h2v1h-2zM393 472h3v1h-3zM375 472h3v1h-3zM334 472h2v1h-2zM400 472h2v1h-2zM350 472h1v1h-1zM332 472h1v1h-1zM398 472h1v1h-1zM257 472h1v1h-1zM291 472h3v1h-3zM357 472h3v1h-3zM338 472h5v1h-5zM273 472h3v1h-3zM298 472h2v1h-2zM255 472h1v1h-1zM405 472h3v1h-3zM280 472h2v1h-2zM311 472h1v2h-1zM408 473h1v1h-1zM320 473h4v1h-4zM276 473h1v1h-1zM287 473h1v1h-1zM344 473h1v1h-1zM302 473h1v1h-1zM350 473h2v1h-2zM332 473h2v1h-2zM398 473h2v1h-2zM348 473h1v1h-1zM392 473h1v1h-1zM306 473h1v1h-1zM326 473h1v1h-1zM396 473h1v1h-1zM266 473h4v1h-4zM330 473h1v1h-1zM341 473h1v1h-1zM356 473h1v1h-1zM290 473h1v1h-1zM296 473h2v1h-2zM362 473h5v1h-5zM278 473h2v1h-2zM360 473h1v1h-1zM294 473h1v1h-1zM404 473h1v1h-1zM272 473h1v1h-1zM256 473h1v2h-1zM340 474h1v1h-1zM392 474h5v1h-5zM326 474h5v1h-5zM290 474h5v1h-5zM356 474h5v1h-5zM286 474h1v1h-1zM310 474h1v1h-1zM272 474h5v1h-5zM404 474h5v1h-5zM344 474h5v1h-5zM302 474h5v1h-5zM390 472h1v4h-1zM315 472h1v4h-1zM413 472h1v4h-1zM364 474h1v2h-1zM339 475h1v1h-1zM257 475h1v1h-1zM255 475h1v1h-1zM285 475h1v1h-1zM382 471h1v6h-1zM386 472h1v5h-1zM374 473h1v4h-1zM378 473h1v4h-1zM320 474h1v3h-1zM324 474h1v3h-1zM266 474h1v3h-1zM270 474h1v3h-1zM344 475h1v2h-1zM309 475h1v2h-1zM302 475h1v2h-1zM392 475h1v2h-1zM326 475h1v2h-1zM356 475h1v2h-1zM290 475h1v2h-1zM404 475h1v2h-1zM272 475h1v2h-1zM412 476h1v1h-1zM389 476h2v1h-2zM284 476h1v1h-1zM316 476h1v1h-1zM338 476h1v1h-1zM370 471h1v7h-1zM300 473h1v5h-1zM282 473h1v5h-1zM354 473h1v5h-1zM336 473h1v5h-1zM402 473h1v5h-1zM296 474h1v4h-1zM278 474h1v4h-1zM350 474h1v4h-1zM332 474h1v4h-1zM398 474h1v4h-1zM254 476h1v2h-1zM258 476h1v2h-1zM320 477h4v1h-4zM345 477h3v1h-3zM303 477h3v1h-3zM284 477h5v1h-5zM327 477h3v1h-3zM387 477h2v1h-2zM390 477h1v1h-1zM393 477h3v1h-3zM375 477h3v1h-3zM317 477h1v1h-1zM266 477h4v1h-4zM411 477h1v1h-1zM291 477h3v1h-3zM381 477h3v1h-3zM357 477h3v1h-3zM338 477h5v1h-5zM273 477h3v1h-3zM405 477h3v1h-3zM308 477h1v2h-1z"/>
</svg>
<span class="t" style="left:206px;top:12px;">McCabe-Thiele diagram for Benzene - Toluene</span>
<span class="t" style="left:45px;top:450px;">0</span>
<span class="t" style="left:36px;top:438px;">0</span>
<span class="t" style="left:154px;top:450px;">0.2</span>
<span class="t" style="left:24px;top:356px;">0.2</span>
<span class="t" style="left:269px;top:450px;">0.4</span>
<span class="t" style="left:24px;top:275px;">0.4</span>
<span class="t" style="left:383px;top:450px;">0.6</span>
<span class="t" style="left:24px;top:193px;">0.6</span>
<span class="t" style="left:498px;top:450px;">0.8</span>
<span class="t" style="left:24px;top:112px;">0.8</span>
<span class="t" style="left:619px;top:450px;">1</span>
<span class="t" style="left:36px;top:30px;">1</span>
<span class="t" style="left:254px;top:468px;">X Benzene/(Benzene+Toluene)</span>
<span class="t" style="left:7px;top:321px;transform-origin:0 0;transform:rotate(-90deg);">X Benzene/(Benzene+Toluene)</span>
</div>
</body></html>
